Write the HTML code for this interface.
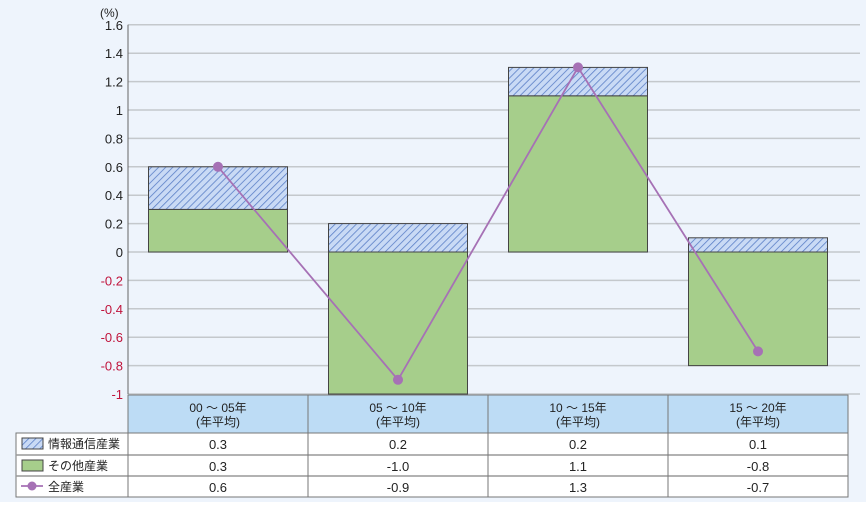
<!DOCTYPE html>
<html><head><meta charset="utf-8"><style>
body{margin:0;background:#fff;font-family:"Liberation Sans","Noto Sans CJK JP",sans-serif;}
svg text{font-family:"Liberation Sans","Noto Sans CJK JP",sans-serif;}
</style></head><body>
<svg id="c" width="866" height="502" xmlns="http://www.w3.org/2000/svg">
<defs><pattern id="hatch" width="5" height="5" patternUnits="userSpaceOnUse" patternTransform="rotate(45)">
<rect width="5" height="5" fill="#c9daf5"/><line x1="0" y1="0" x2="0" y2="5" stroke="#5b7fc7" stroke-width="1.6"/></pattern></defs>
<rect x="0" y="0" width="866" height="502" fill="#eef4fc"/>
<g id="plot"></g>
</svg>
<script>
const categories=["00～05年","05～10年","10～15年","15～20年"];
const ict=[0.3,0.2,0.2,0.1];
const other=[0.3,-1.0,1.1,-0.8];
const total=[0.6,-0.9,1.3,-0.7];
const ticks=[1.6,1.4,1.2,1,0.8,0.6,0.4,0.2,0,-0.2,-0.4,-0.6,-0.8,-1];
const tickLabels=["1.6","1.4","1.2","1","0.8","0.6","0.4","0.2","0","-0.2","-0.4","-0.6","-0.8","-1"];
const NS="http://www.w3.org/2000/svg";
const g=document.getElementById('plot');
const L=128,R=860,colW=180;
const y=v=>252-v*142;
const x=i=>L+i*colW+colW/2;
function mk(t,a,p){const e=document.createElementNS(NS,t);for(const k in a)e.setAttribute(k,a[k]);(p||g).appendChild(e);return e;}
ticks.forEach((t,i)=>{
 const ln=mk('line',{x1:L,x2:R,y1:y(t),y2:y(t),stroke:'#c4c8cc','stroke-width':1.5});
 
 
 const tx=mk('text',{x:123,y:y(t)+5,'text-anchor':'end','font-size':13,fill:t<0?'#c0143c':'#222'});
 tx.textContent=tickLabels[i];
 
 
});
const u=mk('text',{x:100,y:17,'font-size':12,fill:'#222'});u.textContent='(%)';


mk('line',{x1:L,x2:L,y1:y(1.6),y2:y(-1),stroke:'#666'});
const bw=139;
categories.forEach((c,i)=>{
 const x0=x(i)-bw/2;
 const o=other[i];
 const r1=mk('rect',{x:x0,y:Math.min(y(0),y(o)),width:bw,height:Math.abs(y(o)-y(0)),fill:'#a6ce8b',stroke:'#444','stroke-width':1});
 
 
 const base=o>0?o:0;
 const r2=mk('rect',{x:x0,y:y(base+ict[i]),width:bw,height:y(base)-y(base+ict[i]),fill:'url(#hatch)',stroke:'#444','stroke-width':1});
 
 
});
const pl=mk('polyline',{points:total.map((v,i)=>x(i)+','+y(v)).join(' '),fill:'none',stroke:'#a671b5','stroke-width':1.8});


total.forEach((v,i)=>{const p=mk('circle',{cx:x(i),cy:y(v),r:5,fill:'#a671b5'});
 
 });
// table
const T=395,H1=433,rows=[433,455,476,497];
mk('rect',{x:L,y:T,width:colW*4,height:H1-T,fill:'#bddcf5',stroke:'#777'});
mk('rect',{x:16,y:H1,width:L-16+colW*4,height:rows[3]-H1,fill:'#fff',stroke:'#777'});
for(let i=1;i<3;i++)mk('line',{x1:16,x2:L+colW*4,y1:rows[i],y2:rows[i],stroke:'#999','stroke-width':1.5});
for(let i=0;i<=4;i++)mk('line',{x1:L+i*colW,x2:L+i*colW,y1:T,y2:rows[3],stroke:'#777'});
categories.forEach((c,i)=>{
 const t1=mk('text',{x:x(i),y:412,'text-anchor':'middle','font-size':12,fill:'#222'});t1.textContent=c.replace('～',' ～ ');
 
 
 const t2=mk('text',{x:x(i),y:426,'text-anchor':'middle','font-size':12,fill:'#222'});t2.textContent='(年平均)';
});
const series=[ict,other,total];
series.forEach((s,r)=>s.forEach((v,i)=>{
 const t=mk('text',{x:x(i),y:rows[r]+16,'text-anchor':'middle','font-size':13,fill:'#222'});
 t.textContent=v.toFixed(1);
 
 
}));
const names=['情報通信産業','その他産業','全産業'];
mk('rect',{x:22,y:438,width:21,height:11,fill:'url(#hatch)',stroke:'#444'});
mk('rect',{x:22,y:460,width:21,height:11,fill:'#a6ce8b',stroke:'#444'});
mk('line',{x1:21,x2:43,y1:486,y2:486,stroke:'#a671b5','stroke-width':1.8});
mk('circle',{cx:32,cy:486,r:4.5,fill:'#a671b5'});
names.forEach((n,r)=>{const t=mk('text',{x:48,y:rows[r]+15,'font-size':12,fill:'#222'});t.textContent=n;
 
 });
</script>
</body></html>
